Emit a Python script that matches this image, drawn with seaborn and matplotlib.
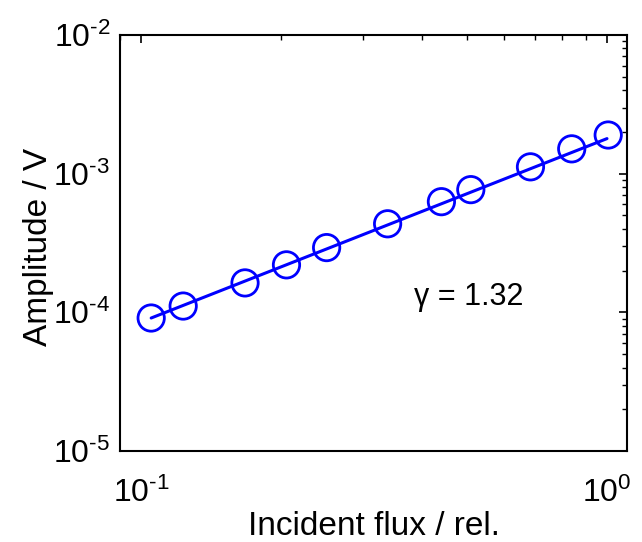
import numpy as np
import pandas as pd
import matplotlib
matplotlib.use("Agg")
import matplotlib.pyplot as plt
import matplotlib.ticker as mticker
import seaborn as sns

# data
flux = [0.105, 0.123, 0.167, 0.205, 0.250, 0.338, 0.441, 0.510, 0.685, 0.840, 1.006]
amplitude = [9.1e-5, 1.11e-4, 1.63e-4, 2.20e-4, 2.93e-4, 4.35e-4, 6.28e-4, 7.67e-4, 1.12e-3, 1.51e-3, 1.90e-3]
fit_flux = [0.105, 1.0]
fit_amplitude = [9.1e-5, 1.79e-3]
annotation = "γ = 1.32"

sns.set_theme(style="white")
plt.rcParams['font.family'] = ['Liberation Sans', 'DejaVu Sans']
plt.rcParams['mathtext.fontset'] = 'custom'
plt.rcParams['mathtext.rm'] = 'Liberation Sans'
plt.rcParams['mathtext.it'] = 'Liberation Sans:italic'
plt.rcParams['mathtext.bf'] = 'Liberation Sans:bold'

fig = plt.figure(figsize=(6.42, 5.42), dpi=100)
ax = fig.add_axes([120/642, 1-451/542, (627-120)/642, (451-35)/542])

pts = pd.DataFrame({"flux": flux, "amplitude": amplitude})
fit = pd.DataFrame({"flux": fit_flux, "amplitude": fit_amplitude})

sns.lineplot(data=fit, x="flux", y="amplitude", ax=ax, color="#0000ff", linewidth=2.2)
sns.scatterplot(data=pts, x="flux", y="amplitude", ax=ax, marker="o", s=360,
                facecolors="none", edgecolors="#0000ff", linewidths=2.0, zorder=3)

ax.set_xscale("log")
ax.set_yscale("log")
ax.set_xlim(0.09, 1.104)
ax.set_ylim(1e-5, 1e-2)

HYPHEN = "\u2010"


def fmt(v, pos):
    e = int(round(np.log10(v)))
    if e < 0:
        return "$\\mathregular{10^{" + HYPHEN + str(-e) + "}}$"
    return "$\\mathregular{10^{" + str(e) + "}}$"


ax.xaxis.set_major_formatter(mticker.FuncFormatter(fmt))
ax.yaxis.set_major_formatter(mticker.FuncFormatter(fmt))

ax.text(0.505, 1.28e-4, annotation, fontsize=22, ha="center", va="center", color="black")

ax.set_xlabel("Incident flux / rel.", fontsize=24, labelpad=2, color="black")
ax.set_ylabel("Amplitude / V", fontsize=24, color="black")
ax.yaxis.set_label_coords(-0.13, 0.49)

for s in ax.spines.values():
    s.set_visible(True)
    s.set_color("black")
    s.set_linewidth(1.5)

ax.tick_params(which="both", direction="in", top=True, right=True,
               colors="black", labelcolor="black")
ax.tick_params(which="major", length=6, width=1.2, labelsize=23)
ax.tick_params(which="minor", length=3.5, width=1.0)
ax.tick_params(axis="x", which="major", pad=19)
ax.tick_params(axis="y", which="major", pad=7)
ax.grid(False)

fig.savefig("out.png", dpi=100)
